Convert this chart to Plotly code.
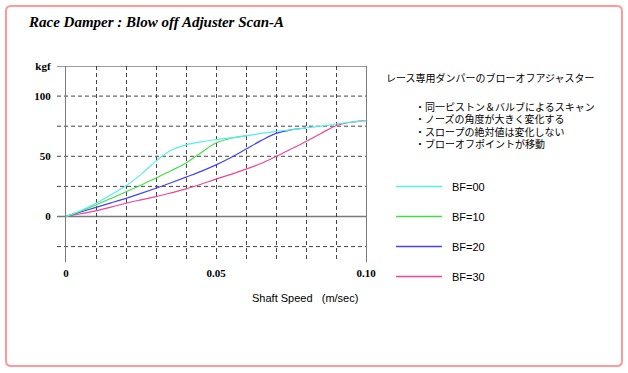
import plotly.graph_objects as go

# ---- data ----
x_bf00 = [0, 0.005, 0.01, 0.015, 0.02, 0.025, 0.03, 0.035, 0.04, 0.045, 0.05, 0.055, 0.06, 0.065, 0.07, 0.075, 0.08, 0.085, 0.09, 0.095, 0.1]
y_bf00 = [0, 5, 11, 18, 25.5, 35, 46, 55, 59.5, 62, 63.8, 65.3, 67, 69, 70.7, 72, 73.5, 75, 76.8, 78.3, 79.6]

x_bf10 = [0, 0.005, 0.01, 0.015, 0.02, 0.025, 0.03, 0.035, 0.04, 0.045, 0.05, 0.055, 0.06]
y_bf10 = [0, 4.5, 9.6, 15, 20.5, 26, 32, 38, 44.5, 53, 61, 65, 67]

x_bf20 = [0, 0.005, 0.01, 0.015, 0.02, 0.025, 0.03, 0.035, 0.04, 0.045, 0.05, 0.055, 0.06, 0.065, 0.07, 0.075, 0.08]
y_bf20 = [0, 3.8, 7.6, 11.3, 15.1, 19.2, 23.5, 28, 32.7, 37.5, 42.9, 49, 56, 63, 69, 72, 73.5]

x_bf30 = [0, 0.005, 0.01, 0.015, 0.02, 0.025, 0.03, 0.035, 0.04, 0.045, 0.05, 0.055, 0.06, 0.065, 0.07, 0.075, 0.08, 0.085, 0.09, 0.095, 0.1]
y_bf30 = [0, 2.3, 4.6, 7.8, 11, 13.8, 16.5, 19.6, 22.9, 26.8, 31, 35, 39.3, 44, 49.8, 56, 62.3, 69, 75.4, 78.3, 79.6]

series_names = ["BF=00", "BF=10", "BF=20", "BF=30"]
series_colors = ["#55eeee", "#44dd44", "#4444ee", "#ee4499"]

y_tickvals = [125, 100, 50, 0]
y_ticktext = ["kgf", "100", "50", "0"]
x_tickvals = [0, 0.05, 0.1]
x_ticktext = ["0", "0.05", "0.10"]
h_grid = [100, 75, 50, 25, -25]

title_text = "Race Damper : Blow off Adjuster Scan-A"
x_title = "Shaft Speed\u00a0\u00a0\u00a0(m/sec)"
note_head = "レース専用ダンパーのブローオフアジャスター"
note_lines = ["・同一ピストン＆バルブによるスキャン", "・ノーズの角度が大きく変化する",
              "・スロープの絶対値は変化しない", "・ブローオフポイントが移動"]

# ---- figure ----
W, H = 628, 373
L, R, T, B = 66, 262, 66, 111
pw, ph = W - L - R, H - T - B

def px_x(p):
    return (p - L) / pw

def px_y(p):
    return (H - B - p) / ph

fig = go.Figure()
xs = [x_bf00, x_bf10, x_bf20, x_bf30]
ys = [y_bf00, y_bf10, y_bf20, y_bf30]
for i in [3, 2, 1, 0]:
    fig.add_trace(go.Scatter(x=xs[i], y=ys[i], mode="lines", name=series_names[i],
                             line=dict(color=series_colors[i], width=1.2, shape="spline", smoothing=1.0),
                             showlegend=False, hoverinfo="skip"))

shapes = []
grid_col = "#444444"
axis_col = "#7a7a7a"
for v in h_grid:
    shapes.append(dict(type="line", xref="paper", yref="y", x0=px_x(57), x1=1, y0=v, y1=v,
                       line=dict(color=grid_col, width=1, dash="4px,3px"), layer="below"))
for v in [0, 125]:
    shapes.append(dict(type="line", xref="paper", yref="y", x0=px_x(57), x1=1, y0=v, y1=v,
                       line=dict(color=axis_col, width=1.3), layer="below"))

# outer rounded frame
x0, x1 = px_x(6), px_x(622)
y0, y1 = px_y(366), px_y(6)
rx, ry = 5 / pw, 5 / ph
path = (f"M{x0+rx},{y1} L{x1-rx},{y1} Q{x1},{y1} {x1},{y1-ry} L{x1},{y0+ry} Q{x1},{y0} {x1-rx},{y0} "
        f"L{x0+rx},{y0} Q{x0},{y0} {x0},{y0+ry} L{x0},{y1-ry} Q{x0},{y1} {x0+rx},{y1} Z")
shapes.append(dict(type="path", xref="paper", yref="paper", path=path,
                   line=dict(color="#ff9a9a", width=2)))

# legend
leg_y = [186.5, 216.5, 246.5, 276.5]
annotations = []
for i, name in enumerate(series_names):
    shapes.append(dict(type="line", xref="paper", yref="paper", x0=px_x(396), x1=px_x(442),
                       y0=px_y(leg_y[i]), y1=px_y(leg_y[i]),
                       line=dict(color=series_colors[i], width=1.5)))
    annotations.append(dict(text=name, xref="paper", yref="paper", x=px_x(450), y=px_y(leg_y[i]),
                            xanchor="left", yanchor="middle", showarrow=False,
                            font=dict(family="Liberation Sans, Arial", size=11, color="#000")))

annotations.append(dict(text=f"<b><i>{title_text}</i></b>", xref="paper", yref="paper",
                        x=px_x(26), y=px_y(22), xanchor="left", yanchor="middle", showarrow=False,
                        font=dict(family="Liberation Serif, Times New Roman", size=15, color="#000")))
annotations.append(dict(text=x_title, xref="paper", yref="paper",
                        x=px_x(360), y=px_y(298), xanchor="right", yanchor="middle", showarrow=False,
                        font=dict(family="Liberation Sans, Arial", size=11, color="#000")))
annotations.append(dict(text=note_head, xref="paper", yref="paper",
                        x=px_x(384), y=px_y(77), xanchor="left", yanchor="middle", showarrow=False,
                        font=dict(family="Noto Sans CJK JP", size=10, color="#000")))
for i, t in enumerate(note_lines):
    annotations.append(dict(text=t, xref="paper", yref="paper",
                            x=px_x(413), y=px_y(106 + 12.4 * i), xanchor="left", yanchor="middle",
                            height=12, showarrow=False,
                            font=dict(family="Noto Sans CJK JP", size=10, color="#000")))

fig.update_layout(
    width=W, height=H, autosize=False,
    margin=dict(l=L, r=R, t=T, b=B, pad=0),
    paper_bgcolor="white", plot_bgcolor="white",
    shapes=shapes, annotations=annotations,
    xaxis=dict(range=[0, 0.1], tickvals=x_tickvals, ticktext=[f"<b>{t}</b>" for t in x_ticktext],
               showgrid=True, gridcolor=grid_col, griddash="4px,3px", gridwidth=1,
               minor=dict(tickmode="linear", tick0=0, dtick=0.01, showgrid=True,
                          gridcolor=grid_col, griddash="4px,3px", gridwidth=1, ticks=""),
               zeroline=False, showline=False,
               ticks="outside", ticklen=1, tickcolor="rgba(0,0,0,0)",
               tickfont=dict(family="Liberation Serif, Times New Roman", size=11, color="#000"),
               fixedrange=True),
    yaxis=dict(range=[-37.8, 125], tickvals=y_tickvals, ticktext=[f"<b>{t}</b>" for t in y_ticktext],
               showgrid=False, zeroline=False,
               showline=True, mirror=True, linecolor=axis_col, linewidth=1.3,
               ticks="outside", ticklen=12, tickcolor="rgba(0,0,0,0)",
               tickfont=dict(family="Liberation Serif, Times New Roman", size=11, color="#000"),
               fixedrange=True),
    font=dict(family="Liberation Serif"),
)

fig.write_html("out.html", config={"displayModeBar": False},
               post_script="document.body.style.margin='0';")
